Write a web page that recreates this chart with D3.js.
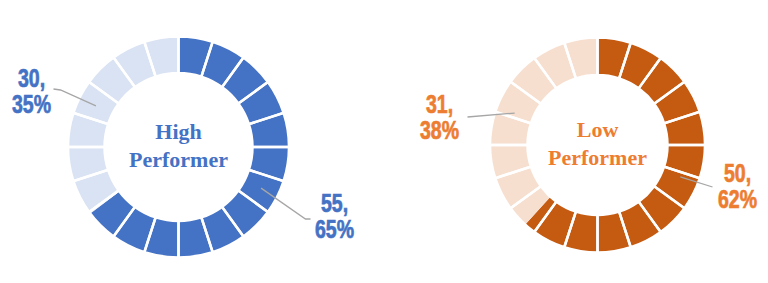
<!DOCTYPE html>
<html>
<head>
<meta charset="utf-8">
<script src="https://cdn.jsdelivr.net/npm/d3@7"></script>
<style>
  body { margin: 0; background: #fff; }
  svg { display: block; }
  .lbl { font-family: "Liberation Sans", Arial, sans-serif; font-weight: bold; font-size: 25px; text-anchor: middle; stroke-width: 0.7px; }
  .title { font-family: "Liberation Serif", "Times New Roman", serif; font-weight: bold; font-size: 22px; text-anchor: middle; }
</style>
</head>
<body>
<svg id="chart" width="768" height="283"></svg>
<script>
// data
var groups = ["High", "Low"];
var subtitles = ["Performer", "Performer"];
var highValues = [55, 30];
var lowValues = [50, 31];
var highPct = ["65%", "35%"];
var lowPct = ["62%", "38%"];
var segmentCount = 20;

var svg = d3.select("#chart");

// layout for each donut, label offsets are relative to the centre
var donuts = [
  { name: groups[0], sub: subtitles[0], values: highValues, pct: highPct,
    cx: 178.5, cy: 147, r0: 74, r1: 110.5,
    dark: "#4472C4", light: "#DAE3F3", text: "#4472C4",
    labels: [ { end: [127, 72], elbow: [132, 72], tx: 156, ty: 65 },
              { end: [-118, -57], elbow: [-125, -58], tx: -147, ty: -60 } ] },
  { name: groups[1], sub: subtitles[1], values: lowValues, pct: lowPct,
    cx: 597.5, cy: 145, r0: 70, r1: 107.5,
    dark: "#C55A11", light: "#F7DFD0", text: "#ED7D31",
    labels: [ { end: [115, 42], elbow: [115, 42], tx: 140, ty: 37 },
              { end: [-130, -28], elbow: [-130, -28], tx: -158, ty: -32 } ] }
];

var pie = d3.pie().sort(null).value(function(d) { return d; });

donuts.forEach(function(dn) {
  var g = svg.append("g").attr("transform", "translate(" + dn.cx + "," + dn.cy + ")");
  var arc = d3.arc().innerRadius(dn.r0).outerRadius(dn.r1);
  var slices = pie(dn.values);

  g.selectAll("path.slice")
    .data(slices)
    .enter().append("path")
    .attr("class", "slice")
    .attr("d", arc)
    .attr("fill", function(d, i) { return i === 0 ? dn.dark : dn.light; });

  // the 20 equal segments, white borders on top
  var segs = pie(d3.range(segmentCount).map(function() { return 1; }));
  g.selectAll("path.seg")
    .data(segs)
    .enter().append("path")
    .attr("class", "seg")
    .attr("d", arc)
    .attr("fill", "none")
    .attr("stroke", "#fff")
    .attr("stroke-width", 2.5);

  // leader lines from slice centroid
  slices.forEach(function(s, i) {
    var c = arc.centroid(s);
    var L = dn.labels[i];
    g.append("polyline")
      .attr("points", [c, L.end, L.elbow].map(function(p) { return p.join(","); }).join(" "))
      .attr("fill", "none")
      .attr("stroke", "#A6A6A6")
      .attr("stroke-width", 1.3);

    // narrow bold look: squeeze horizontally
    var t = g.append("text").attr("class", "lbl").attr("fill", dn.text).attr("stroke", dn.text)
      .attr("transform", "translate(" + L.tx + "," + L.ty + ") scale(0.78,1)");
    t.append("tspan").attr("x", 0).text(dn.values[i] + ",");
    t.append("tspan").attr("x", 0).attr("dy", 26).text(dn.pct[i]);
  });

  g.append("text").attr("class", "title").attr("fill", dn.text)
    .attr("x", 0).attr("y", -8).text(dn.name);
  g.append("text").attr("class", "title").attr("fill", dn.text)
    .attr("x", 0).attr("y", 20).text(dn.sub);
});
</script>
</body>
</html>
